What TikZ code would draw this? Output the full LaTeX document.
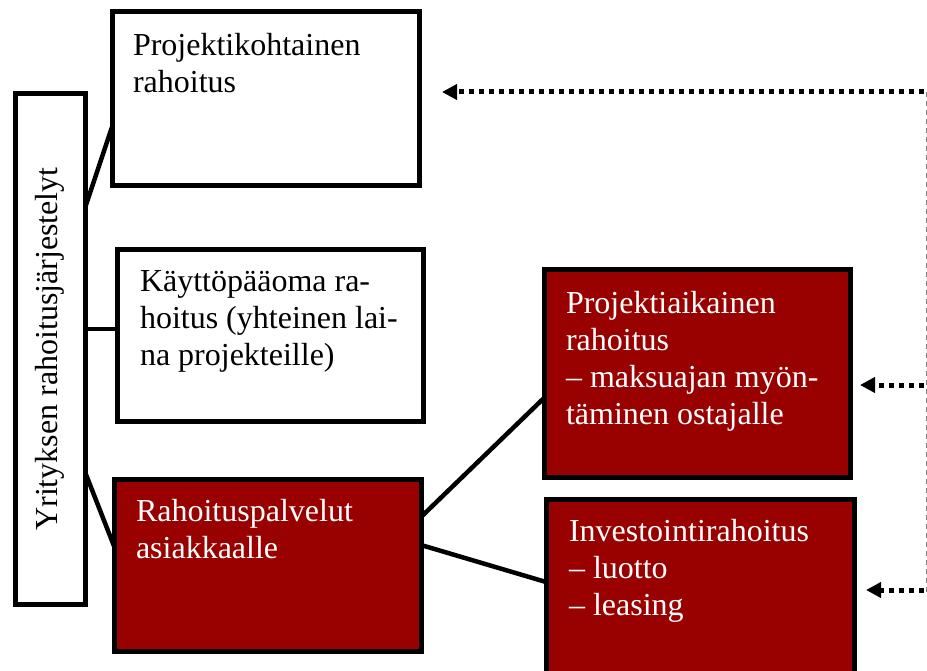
\documentclass[tikz,border=0pt]{standalone}
\usepackage{fontspec}
\setmainfont{Liberation Serif}
\usetikzlibrary{arrows.meta,calc}
\definecolor{boxred}{RGB}{153,0,0}
\begin{document}
\begin{tikzpicture}[x=1pt,y=-1pt,
  wbox/.style={draw=black,line width=5pt,fill=white,inner sep=0pt,outer sep=0pt},
  rbox/.style={draw=black,line width=5pt,fill=boxred,inner sep=0pt,outer sep=0pt},
  txt/.style={inner sep=0pt,outer sep=0pt,align=left,anchor=north west,font=\fontsize{32}{37}\selectfont},
  wtxt/.style={txt,text=white},
  conn/.style={draw=black,line width=4.5pt},
  dotarrow/.style={draw=black,line width=5pt,dash pattern=on 5pt off 5pt,-{Triangle[length=15pt,width=15pt]}},
  guide/.style={draw=gray,line width=1pt,dash pattern=on 5pt off 4pt}]
\useasboundingbox (0,0) rectangle (927,671);
\clip (0,0) rectangle (927,671);
% boxes
\node[wbox,minimum width=70pt,minimum height=510pt] (L) at (50,349) {};
\node[wbox,minimum width=307pt,minimum height=174pt] (B1) at (265.5,99) {};
\node[wbox,minimum width=306pt,minimum height=171pt] (B2) at (270,335.5) {};
\node[rbox,minimum width=307pt,minimum height=172pt] (B3) at (267.5,565) {};
\node[rbox,minimum width=306pt,minimum height=207pt] (B4) at (697,373.5) {};
\node[rbox,minimum width=308pt,minimum height=191pt] (B5) at (700,594.5) {};
% texts
\node[rotate=90,inner sep=0pt,font=\fontsize{32}{37}\selectfont] (LT) at (L.center) {Yrityksen rahoitusjärjestelyt};
\node[txt] (T1) at ($(B1.north west)+(21,21)$) {Projektikohtainen\\rahoitus};
\node[txt] (T2) at ($(B2.north west)+(23,21)$) {Käyttöpääoma ra-\\hoitus (yhteinen lai-\\na projekteille)};
\node[wtxt] (T3) at ($(B3.north west)+(22,20)$) {Rahoituspalvelut\\asiakkaalle};
\node[wtxt] (T4) at ($(B4.north west)+(22,21)$) {Projektiaikainen\\rahoitus\\– maksuajan myön-\\täminen ostajalle};
\node[wtxt] (T5) at ($(B5.north west)+(23,20)$) {Investointirahoitus\\– luotto\\– leasing};
% connectors
\draw[conn] ([yshift=141pt]L.east) -- ([yshift=-28pt]B1.west);
\draw[conn] ([yshift=20pt]L.east) -- ([yshift=6.5pt]B2.west);
\draw[conn] ([yshift=-123pt]L.east) -- ([yshift=19pt]B3.west);
\draw[conn] ([yshift=48pt]B3.east) -- ([yshift=-24.5pt]B4.west);
\draw[conn] ([yshift=20pt]B3.east) -- ([yshift=12.5pt]B5.west);
% dotted arrows
\coordinate (S1) at (924,92);
\coordinate (E1) at (442,92);
\coordinate (S2) at (924,385);
\coordinate (E2) at (860,385);
\coordinate (S3) at (924,590);
\coordinate (E3) at (866,590);
\coordinate (G1) at (926,92);
\coordinate (G2) at (926,592);
\draw[guide] (G1) -- (G2);
\draw[dotarrow] (S1) -- (E1);
\draw[dotarrow] (S2) -- (E2);
\draw[dotarrow] (S3) -- (E3);
\end{tikzpicture}
\end{document}
